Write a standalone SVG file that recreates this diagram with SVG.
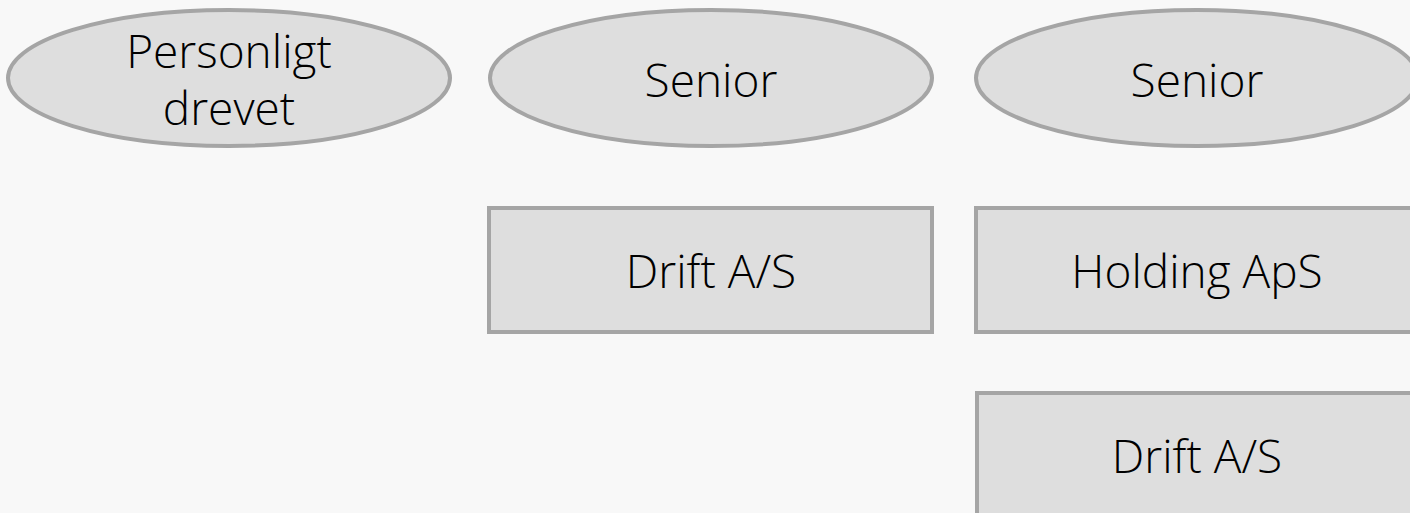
<svg xmlns="http://www.w3.org/2000/svg" width="1410" height="513" viewBox="0 0 1410 513">
<style>
.shape{fill:#dedede;stroke:#a5a5a5;stroke-width:4}
.lbl{font-family:"Open Sans","Liberation Sans",Arial,sans-serif;font-weight:300;font-size:46px;fill:#000;text-anchor:middle}
</style>
<rect x="0" y="0" width="1410" height="513" fill="#f8f8f8"/>
<g id="connectors"></g>
<g id="node-personligt">
<ellipse class="shape" cx="229" cy="78" rx="221" ry="68"/>
<text class="lbl" x="229" y="68">Personligt</text>
<text class="lbl" x="229" y="125">drevet</text>
</g>
<g id="node-senior1">
<ellipse class="shape" cx="711" cy="78" rx="221" ry="68"/>
<text class="lbl" x="711" y="97">Senior</text>
</g>
<g id="node-senior2">
<ellipse class="shape" cx="1197" cy="78" rx="221" ry="68"/>
<text class="lbl" x="1197" y="97">Senior</text>
</g>
<g id="node-drift1">
<rect class="shape" x="489" y="208" width="443" height="124"/>
<text class="lbl" x="711" y="288">Drift A/S</text>
</g>
<g id="node-holding">
<rect class="shape" x="976" y="208" width="443" height="124"/>
<text class="lbl" x="1197" y="288">Holding ApS</text>
</g>
<g id="node-drift2">
<rect class="shape" x="977" y="393" width="443" height="124"/>
<text class="lbl" x="1197" y="473">Drift A/S</text>
</g>
</svg>
